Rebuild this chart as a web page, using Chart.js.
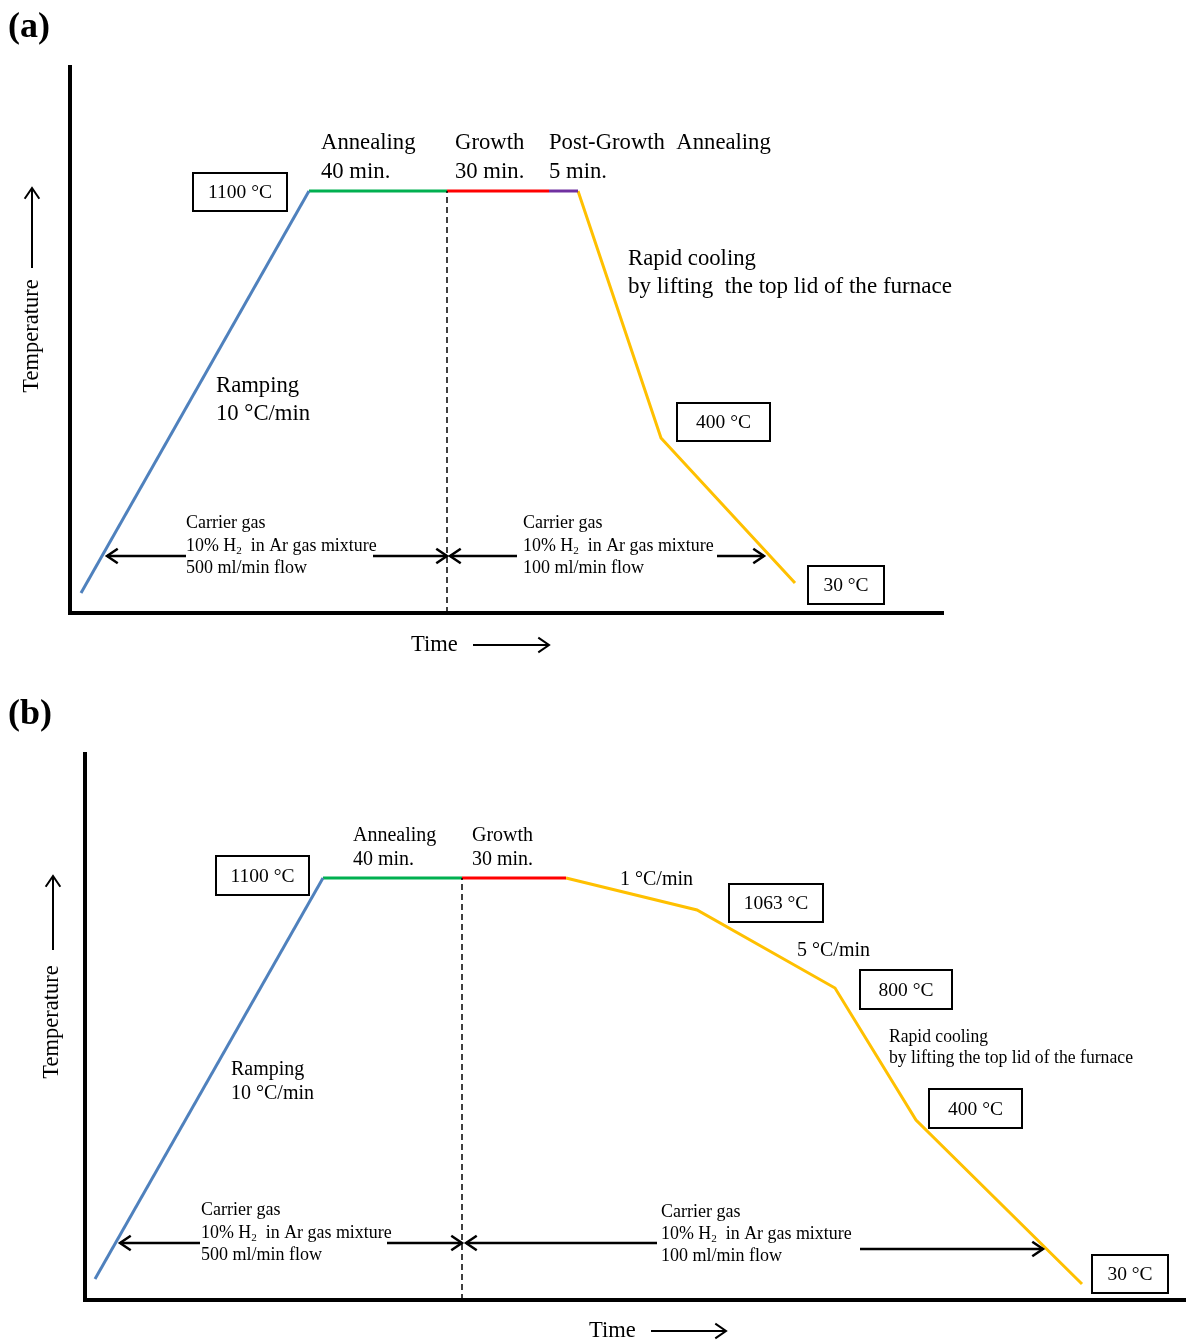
<!DOCTYPE html>
<html><head><meta charset="utf-8">
<script src="https://cdn.jsdelivr.net/npm/chart.js@4.4.0/dist/chart.umd.min.js"></script>
<style>
html,body{margin:0;padding:0;background:#fff;}
#wrap{position:relative;width:1186px;height:1343px;overflow:hidden;}
.panel{position:absolute;left:0;width:1186px;}
</style></head><body>
<div id="wrap">
  <div class="panel" style="top:0;height:672px"><canvas id="chartA" width="1186" height="672"></canvas></div>
  <div class="panel" style="top:680px;height:663px"><canvas id="chartB" width="1186" height="663"></canvas></div>
</div>
<script>
// ---------- DATA (schematic time / temperature levels, arbitrary units) ----------
// Panel (a)
const aRampX   = [11, 239],  aRampY   = [20, 422];
const aAnnealX = [239, 377], aAnnealY = [422, 422];
const aGrowthX = [377, 479], aGrowthY = [422, 422];
const aPostX   = [479, 508], aPostY   = [422, 422];
const aCoolX   = [508, 591, 725], aCoolY = [422, 175, 30];
const aSwitchX = [377, 377], aSwitchY = [0, 422];
// Panel (b)
const bRampX   = [10, 238],  bRampY   = [21, 422];
const bAnnealX = [238, 377], bAnnealY = [422, 422];
const bGrowthX = [377, 481], bGrowthY = [422, 422];
const bCoolX   = [481, 612, 750, 831, 997], bCoolY = [422, 390, 312, 180, 16];
const bSwitchX = [377, 377], bSwitchY = [0, 422];

// Text content
const tempLabels = ["1100 °C", "400 °C", "30 °C", "1063 °C", "800 °C"];
const stageLabels = ["Annealing", "40 min.", "Growth", "30 min.", "Post-Growth  Annealing", "5 min."];
const gasLeft  = ["Carrier gas", "10% H_2  in Ar gas mixture", "500 ml/min flow"];
const gasRight = ["Carrier gas", "10% H_2  in Ar gas mixture", "100 ml/min flow"];
const gasRightB = ["Carrier gas", "10% H_2  in Ar gas mixture", "100 ml/min flow"];

// ---------- helpers ----------
const SERIF = '"Liberation Serif", "Times New Roman", serif';
const COL = {ramp:'#4f81bd', anneal:'#00b050', growth:'#ff0000', post:'#7030a0', cool:'#ffc000'};

function seg(xs, ys, color, dash) {
  return {
    data: xs.map((x, i) => ({x: x, y: ys[i]})),
    borderColor: color, borderWidth: dash ? 1.5 : 3,
    borderDash: dash ? [6, 4] : [],
    pointRadius: 0, fill: false, tension: 0,
    borderCapStyle: 'butt', borderJoinStyle: 'miter'
  };
}

function drawRich(ctx, str, x, y, size) {
  const parts = str.split(/(_\d)/);
  let cx = x;
  parts.forEach(p => {
    if (!p) return;
    if (p[0] === '_') {
      ctx.font = (size * 0.62) + 'px ' + SERIF;
      ctx.fillText(p.slice(1), cx, y + size * 0.28);
      cx += ctx.measureText(p.slice(1)).width;
      ctx.font = size + 'px ' + SERIF;
    } else {
      ctx.fillText(p, cx, y);
      cx += ctx.measureText(p).width;
    }
  });
}

function arrow(ctx, x1, y1, x2, y2, lw) {
  const ang = Math.atan2(y2 - y1, x2 - x1);
  const L = 13, a = 0.6;
  ctx.save();
  ctx.strokeStyle = '#000'; ctx.lineWidth = lw || 2.5;
  ctx.beginPath(); ctx.moveTo(x1, y1); ctx.lineTo(x2, y2); ctx.stroke();
  ctx.beginPath();
  ctx.moveTo(x2 - L * Math.cos(ang - a), y2 - L * Math.sin(ang - a));
  ctx.lineTo(x2, y2);
  ctx.lineTo(x2 - L * Math.cos(ang + a), y2 - L * Math.sin(ang + a));
  ctx.stroke();
  ctx.restore();
}

const schematicPlugin = {
  id: 'schematic',
  afterDatasetsDraw(chart, args, opts) {
    const ctx = chart.ctx, xs = chart.scales.x, ys = chart.scales.y;
    const X = v => xs.getPixelForValue(v), Y = v => ys.getPixelForValue(v);
    ctx.save();
    ctx.fillStyle = '#000';
    ctx.textBaseline = 'middle';
    // panel letter
    ctx.font = 'bold ' + opts.letterSize + 'px ' + SERIF;
    ctx.textAlign = 'left';
    ctx.fillText(opts.letter[0], X(opts.letter[1]), Y(opts.letter[2]));
    // texts
    (opts.texts || []).forEach(t => {
      ctx.font = t.size + 'px ' + SERIF;
      ctx.textAlign = 'left';
      if (t.w) {
        ctx.save();
        const w = ctx.measureText(t.s.replace(/_\d/g, '2')).width;
        const k = t.w / w;
        ctx.translate(X(t.x), Y(t.y));
        ctx.scale(k, 1);
        drawRich(ctx, t.s, 0, 0, t.size);
        ctx.restore();
      } else {
        drawRich(ctx, t.s, X(t.x), Y(t.y), t.size);
      }
    });
    // boxes
    (opts.boxes || []).forEach(b => {
      const cx = X(b.x), cy = Y(b.y);
      ctx.fillStyle = '#fff';
      ctx.fillRect(cx - b.w / 2, cy - b.h / 2, b.w, b.h);
      ctx.strokeStyle = '#000'; ctx.lineWidth = 2;
      ctx.strokeRect(cx - b.w / 2, cy - b.h / 2, b.w, b.h);
      ctx.fillStyle = '#000';
      ctx.font = b.size + 'px ' + SERIF;
      ctx.textAlign = 'center';
      ctx.fillText(b.s, cx, cy + 1);
    });
    // arrows
    (opts.arrows || []).forEach(a => arrow(ctx, X(a[0]), Y(a[1]), X(a[2]), Y(a[3]), a[4]));
    // axis titles
    ctx.font = opts.axisSize + 'px ' + SERIF;
    ctx.textAlign = 'left';
    ctx.fillText('Time', X(opts.timeLabel[0]), Y(opts.timeLabel[1]));
    ctx.save();
    ctx.translate(X(opts.tempLabel[0]), Y(opts.tempLabel[1]));
    ctx.rotate(-Math.PI / 2);
    ctx.textAlign = 'center';
    ctx.fillText('Temperature', 0, 0);
    ctx.restore();
    ctx.restore();
  }
};

function axes(xmax, ymax) {
  const common = {
    type: 'linear', display: true,
    grid: {display: false, drawTicks: false},
    ticks: {display: false},
    border: {display: true, color: '#000', width: 4}
  };
  return {
    x: Object.assign({}, common, {min: 0, max: xmax, afterFit(s) { s.height = 0; }}),
    y: Object.assign({}, common, {min: 0, max: ymax, afterFit(s) { s.width = 0; }})
  };
}

// ---------- Chart (a) ----------
new Chart(document.getElementById('chartA'), {
  type: 'line',
  data: {datasets: [
    seg(aSwitchX, aSwitchY, '#000', true),
    seg(aRampX, aRampY, COL.ramp),
    seg(aAnnealX, aAnnealY, COL.anneal),
    seg(aGrowthX, aGrowthY, COL.growth),
    seg(aPostX, aPostY, COL.post),
    seg(aCoolX, aCoolY, COL.cool)
  ]},
  options: {
    responsive: false, animation: false, devicePixelRatio: 1,
    layout: {padding: {left: 70, top: 67, right: 243, bottom: 59}},
    scales: axes(873, 546),
    plugins: {
      legend: {display: false}, tooltip: {enabled: false},
      schematic: {
        letter: ['(a)', -62, 585], letterSize: 36, axisSize: 22.5,
        timeLabel: [341, -32], tempLabel: [-38, 277],
        texts: [
          {s: stageLabels[0], x: 251, y: 470, size: 22.7},
          {s: stageLabels[1], x: 251, y: 441, size: 22.7},
          {s: stageLabels[2], x: 385, y: 470, size: 22.7},
          {s: stageLabels[3], x: 385, y: 441, size: 22.7},
          {s: stageLabels[4], x: 479, y: 470, size: 22.7},
          {s: stageLabels[5], x: 479, y: 441, size: 22.7},
          {s: 'Rapid cooling', x: 558, y: 354, size: 22.7},
          {s: 'by lifting  the top lid of the furnace', x: 558, y: 326, size: 22.7, w: 324},
          {s: 'Ramping', x: 146, y: 227, size: 22.7},
          {s: '10 °C/min', x: 146, y: 199, size: 22.7},
          {s: gasLeft[0], x: 116, y: 90, size: 18},
          {s: gasLeft[1], x: 116, y: 67, size: 18, w: 194},
          {s: gasLeft[2], x: 116, y: 45, size: 18},
          {s: gasRight[0], x: 453, y: 90, size: 18},
          {s: gasRight[1], x: 453, y: 67, size: 18, w: 194},
          {s: gasRight[2], x: 453, y: 45, size: 18}
        ],
        boxes: [
          {s: tempLabels[0], x: 170, y: 421, w: 94, h: 38, size: 19.5},
          {s: tempLabels[1], x: 653.5, y: 191, w: 93, h: 38, size: 19.5},
          {s: tempLabels[2], x: 776, y: 28, w: 76, h: 38, size: 19.5}
        ],
        arrows: [
          [116, 57, 37, 57], [303, 57, 377, 57],
          [447, 57, 380, 57], [647, 57, 694, 57],
          [403, -32, 479, -32, 2], [-38, 345, -38, 425, 2]
        ]
      }
    }
  },
  plugins: [schematicPlugin]
});

// ---------- Chart (b) ----------
new Chart(document.getElementById('chartB'), {
  type: 'line',
  data: {datasets: [
    seg(bSwitchX, bSwitchY, '#000', true),
    seg(bRampX, bRampY, COL.ramp),
    seg(bAnnealX, bAnnealY, COL.anneal),
    seg(bGrowthX, bGrowthY, COL.growth),
    seg(bCoolX, bCoolY, COL.cool)
  ]},
  options: {
    responsive: false, animation: false, devicePixelRatio: 1,
    layout: {padding: {left: 85, top: 74, right: 0, bottom: 43}},
    scales: axes(1101, 546),
    plugins: {
      legend: {display: false}, tooltip: {enabled: false},
      schematic: {
        letter: ['(b)', -77, 585], letterSize: 36, axisSize: 22.5,
        timeLabel: [504, -31], tempLabel: [-33, 278],
        texts: [
          {s: stageLabels[0], x: 268, y: 464, size: 20},
          {s: stageLabels[1], x: 268, y: 440, size: 20},
          {s: stageLabels[2], x: 387, y: 464, size: 20},
          {s: stageLabels[3], x: 387, y: 440, size: 20},
          {s: '1 °C/min', x: 535, y: 420, size: 20},
          {s: '5 °C/min', x: 712, y: 349, size: 20},
          {s: 'Rapid cooling', x: 804, y: 263, size: 18.5, w: 99},
          {s: 'by lifting the top lid of the furnace', x: 804, y: 242, size: 18.5, w: 244},
          {s: 'Ramping', x: 146, y: 230, size: 20},
          {s: '10 °C/min', x: 146, y: 206, size: 20},
          {s: gasLeft[0], x: 116, y: 90, size: 18},
          {s: gasLeft[1], x: 116, y: 67, size: 18, w: 194},
          {s: gasLeft[2], x: 116, y: 45, size: 18},
          {s: gasRightB[0], x: 576, y: 88, size: 18},
          {s: gasRightB[1], x: 576, y: 66, size: 18, w: 194},
          {s: gasRightB[2], x: 576, y: 44, size: 18}
        ],
        boxes: [
          {s: tempLabels[0], x: 177.5, y: 424.5, w: 93, h: 39, size: 19.5},
          {s: tempLabels[3], x: 691, y: 397, w: 94, h: 38, size: 19.5},
          {s: tempLabels[4], x: 821, y: 310.5, w: 92, h: 39, size: 19.5},
          {s: tempLabels[1], x: 890.5, y: 191.5, w: 93, h: 39, size: 19.5},
          {s: tempLabels[2], x: 1045, y: 26, w: 76, h: 38, size: 19.5}
        ],
        arrows: [
          [115, 57, 35, 57], [302, 57, 377, 57],
          [572, 57, 381, 57], [775, 51, 958, 51],
          [566, -31, 641, -31, 2], [-32, 350, -32, 424, 2]
        ]
      }
    }
  },
  plugins: [schematicPlugin]
});
</script>
</body></html>
